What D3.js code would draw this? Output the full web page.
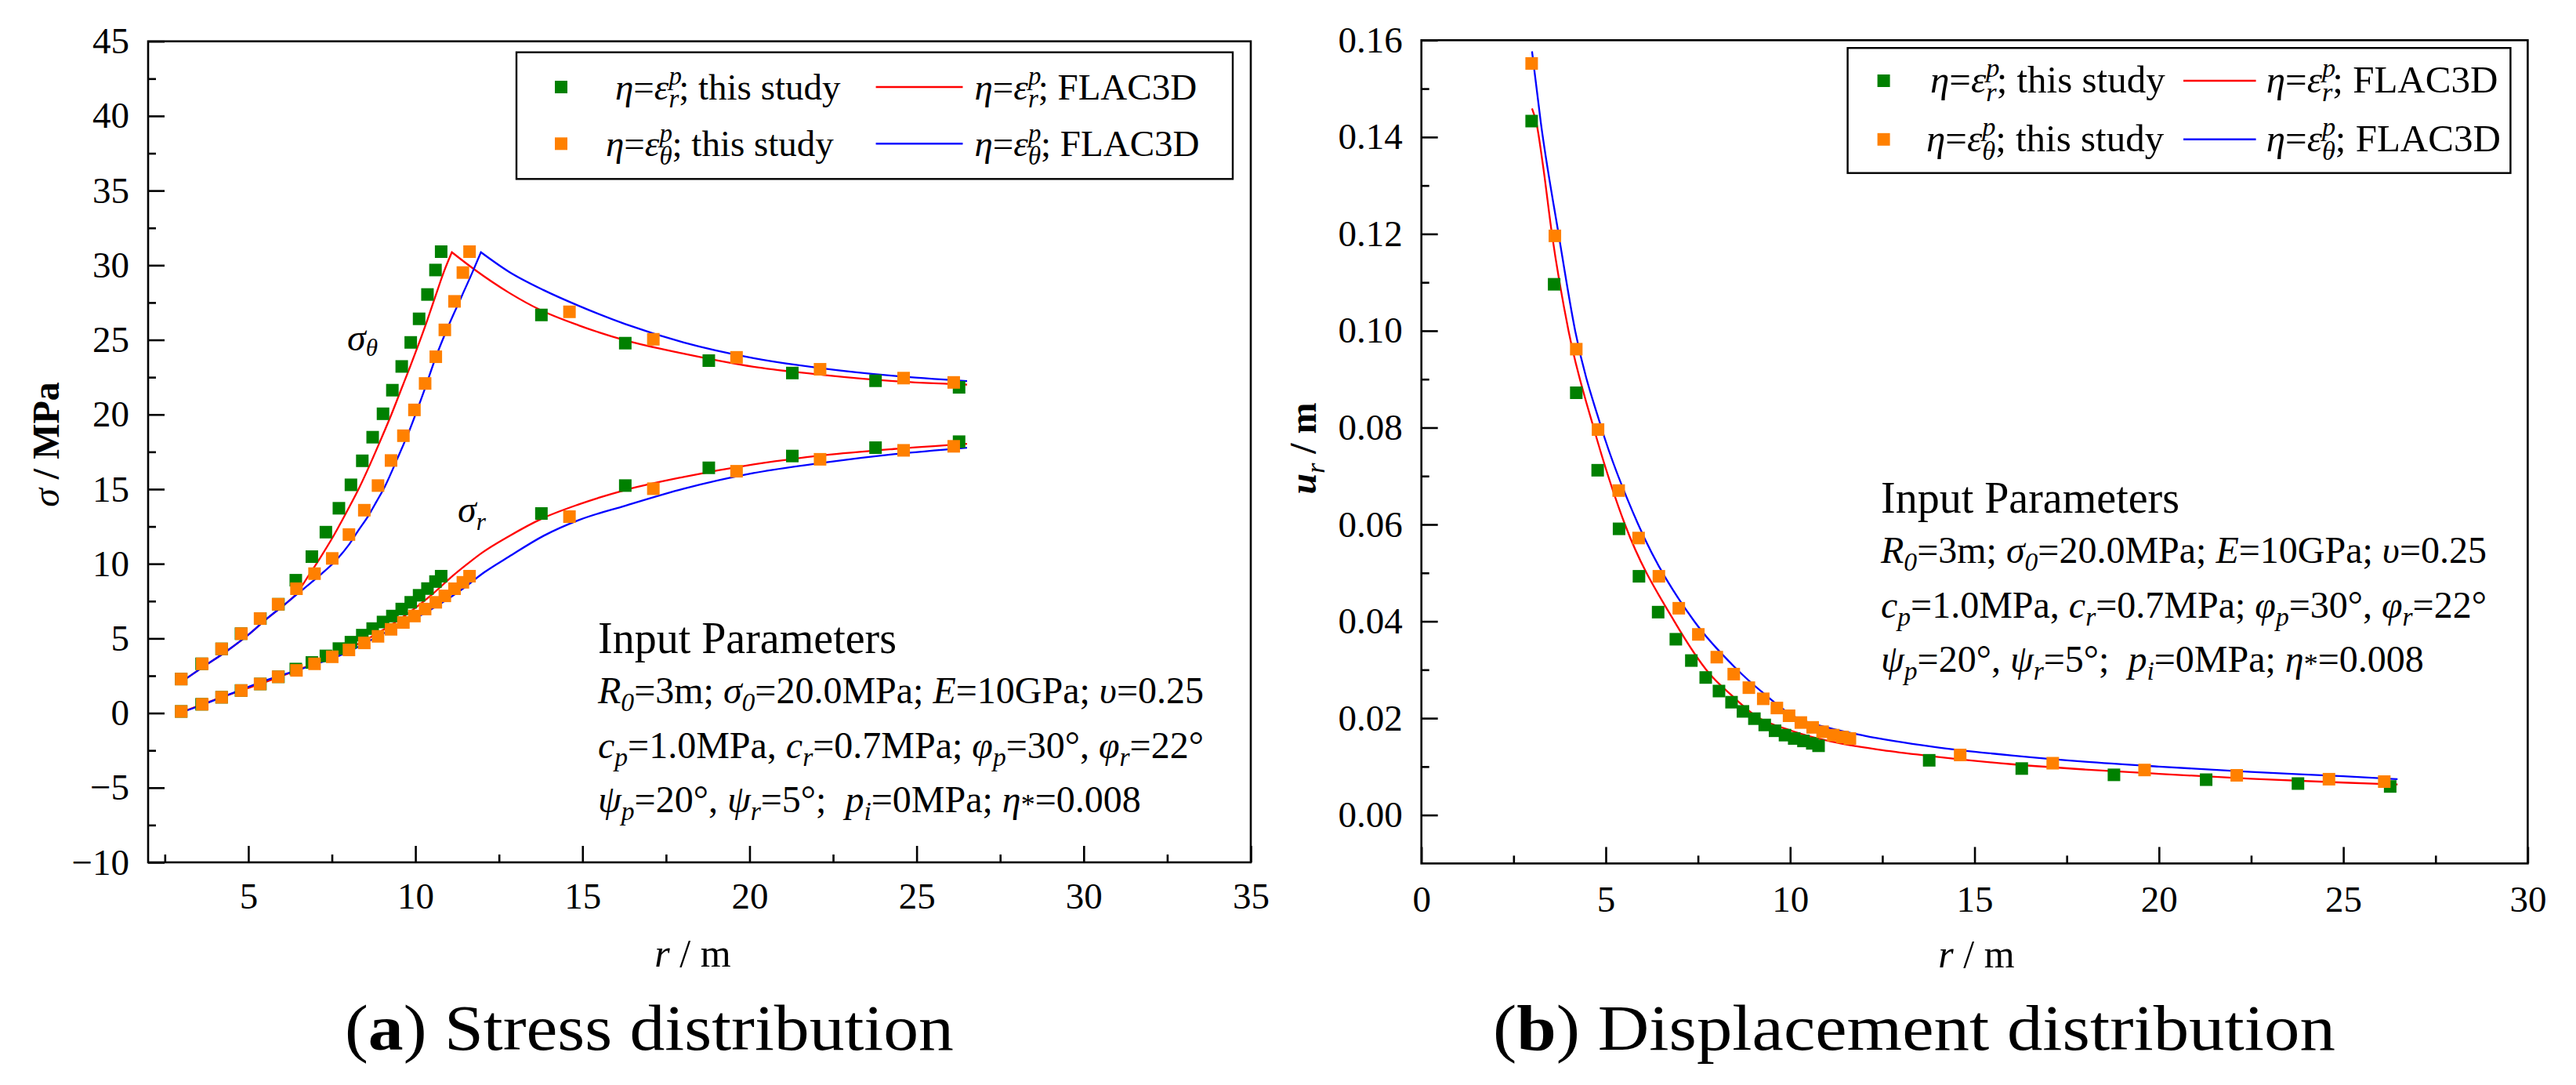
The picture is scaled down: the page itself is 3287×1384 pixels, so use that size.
<!DOCTYPE html>
<html><head><meta charset="utf-8">
<script src="https://cdn.jsdelivr.net/npm/d3@7"></script>
<style>
html,body{margin:0;padding:0;background:#fff;}
text{font-family:"Liberation Serif","Times New Roman",serif;white-space:pre;}
</style></head>
<body>
<script>
// ---------------- DATA ----------------
const rGreen  = [2.99,3.60,4.20,4.78,5.36,5.90,6.42,6.90,7.32,7.71,8.07,8.41,8.72,9.03,9.31,9.59,9.86,10.11,10.36,10.60,10.77,13.77,16.28,18.78,21.28,23.77,26.27];
const rOrange = [2.99,3.62,4.20,4.79,5.35,5.89,6.44,6.98,7.51,8.01,8.47,8.88,9.27,9.64,9.97,10.29,10.61,10.88,11.17,11.42,11.62,14.61,17.12,19.61,22.11,24.61,26.11];
const sigmaThetaGreen  = [2.28,3.30,4.30,5.32,6.33,7.29,8.90,10.48,12.12,13.72,15.29,16.90,18.48,20.05,21.63,23.22,24.83,26.41,28.04,29.68,30.91,26.67,24.78,23.61,22.78,22.26,21.82];
const sigmaThetaOrange = [2.28,3.30,4.30,5.32,6.33,7.29,8.33,9.34,10.36,11.96,13.59,15.24,16.92,18.58,20.31,22.08,23.87,25.67,27.58,29.51,30.91,26.88,25.04,23.83,23.03,22.44,22.15];
const sigmaRGreen  = [0.11,0.59,1.06,1.51,1.95,2.43,2.95,3.39,3.83,4.32,4.75,5.22,5.66,6.10,6.50,6.97,7.42,7.89,8.34,8.81,9.17,13.37,15.24,16.43,17.22,17.78,18.18];
const sigmaROrange = [0.11,0.59,1.06,1.51,1.95,2.43,2.86,3.30,3.77,4.23,4.70,5.14,5.61,6.07,6.50,6.97,7.42,7.85,8.33,8.76,9.17,13.16,15.03,16.20,17.00,17.60,17.87];
const uGreen  = [0.1433,0.1096,0.0872,0.0712,0.0591,0.0493,0.0419,0.0363,0.0319,0.0284,0.0256,0.0233,0.0214,0.0199,0.0186,0.0174,0.0165,0.0158,0.0153,0.0148,0.0143,0.0113,0.0096,0.0083,0.0073,0.0065,0.0059];
const uOrange = [0.1552,0.1196,0.0962,0.0796,0.0670,0.0572,0.0493,0.0427,0.0373,0.0326,0.0291,0.0263,0.0240,0.0221,0.0205,0.0191,0.0181,0.0172,0.0165,0.0161,0.0158,0.0124,0.0107,0.0093,0.0082,0.0074,0.0069];

// FLAC3D curves [r, value]
const flacRedThetaRise  = [[3.0,2.1],[3.62,3.05],[4.37,4.18],[5.0,5.25],[5.54,6.3],[6.1,7.3],[6.44,8.0],[6.8,9.2],[7.15,10.4],[7.57,11.95],[7.96,13.55],[8.32,15.1],[8.66,16.75],[8.97,18.35],[9.28,20.0],[9.56,21.6],[9.84,23.2],[10.11,24.8],[10.36,26.35],[10.61,28.0],[10.85,29.55],[11.09,30.87]];
const flacRedThetaFall  = [[11.09,30.87],[11.75,29.74],[12.80,28.16],[13.77,26.97],[14.89,25.97],[16.28,24.97],[18.03,24.08],[20.12,23.20],[22.22,22.65],[24.31,22.24],[26.51,22.0]];
const flacBlueThetaRise = [[3.0,2.1],[3.62,3.05],[4.37,4.18],[5.0,5.25],[5.54,6.3],[6.1,7.3],[6.64,8.3],[7.15,9.25],[7.65,10.3],[8.0,11.25],[8.28,12.2],[8.6,13.25],[8.83,14.15],[9.09,15.2],[9.45,17.0],[9.84,19.05],[10.23,21.4],[10.62,23.9],[11.0,26.0],[11.4,28.0],[11.7,29.5],[11.96,30.87]];
const flacBlueThetaFall = [[11.96,30.87],[12.80,29.56],[13.84,28.33],[14.89,27.28],[16.28,26.06],[18.03,24.83],[20.12,23.78],[22.22,23.08],[24.31,22.59],[26.51,22.24]];
const flacRedR  = [[3.0,0.05],[4.2,1.06],[5.35,1.95],[6.44,2.86],[7.51,3.8],[8.47,4.85],[9.27,5.9],[10.0,7.05],[10.5,7.95],[11.12,9.2],[11.56,10.0],[12.0,10.75],[12.80,11.85],[13.77,13.01],[14.89,13.98],[16.28,14.94],[18.03,15.82],[20.12,16.66],[22.22,17.27],[24.31,17.69],[26.51,18.04]];
const flacBlueR = [[3.0,0.05],[3.62,0.55],[4.37,1.2],[5.54,2.2],[6.71,3.05],[7.89,4.0],[9.06,5.35],[10.23,6.63],[11.40,8.3],[12.06,9.43],[12.80,10.48],[13.84,11.88],[14.89,12.93],[16.28,13.89],[18.03,15.03],[20.12,16.08],[22.22,16.78],[24.31,17.34],[26.51,17.78]];
const flacRedU  = [[3.0,0.1459],[3.12,0.1429],[3.3,0.134],[3.54,0.12],[3.99,0.10],[4.67,0.08],[5.52,0.06],[6.86,0.04],[7.8,0.0293],[8.4,0.0248],[9.08,0.0204],[10.0,0.0175],[11.09,0.0152],[12.5,0.0134],[13.78,0.0122],[16.0,0.0105],[18.0,0.0094],[20.0,0.0085],[22.5,0.0075],[25.0,0.0067],[26.47,0.0063]];
const flacBlueU = [[3.0,0.1577],[3.24,0.1429],[3.72,0.12],[4.17,0.10],[4.88,0.08],[5.88,0.06],[7.4,0.04],[8.5,0.0305],[9.3,0.025],[10.14,0.0202],[11.0,0.0181],[12.0,0.0164],[13.88,0.0141],[16.0,0.0123],[18.0,0.0110],[20.0,0.0100],[22.5,0.0089],[25.0,0.0080],[26.47,0.0074]];

// ticks
const stressXTicks = [5,10,15,20,25,30,35];
const stressXMinor = [2.5,7.5,12.5,17.5,22.5,27.5,32.5];
const stressYTicks = [-10,-5,0,5,10,15,20,25,30,35,40,45];
const stressYMinor = [-7.5,-2.5,2.5,7.5,12.5,17.5,22.5,27.5,32.5,37.5,42.5];
const dispXTicks = [0,5,10,15,20,25,30];
const dispXMinor = [2.5,7.5,12.5,17.5,22.5,27.5];
const dispYTicks = [0,0.02,0.04,0.06,0.08,0.10,0.12,0.14,0.16];
const dispYMinor = [0.01,0.03,0.05,0.07,0.09,0.11,0.13,0.15];

// ---------------- DRAW ----------------
const W = 3287, H = 1384;
const GREEN = "#008000", ORANGE = "#ff8000", RED = "#ff0000", BLUE = "#0000ff";
const svg = d3.select("body").append("svg").attr("width", W).attr("height", H);
svg.append("rect").attr("width", W).attr("height", H).attr("fill", "#fff");

function rich(g, x, y, parts, size) {
  const t = g.append("text").attr("x", x).attr("y", y).attr("font-size", size);
  let cur = 0;
  parts.forEach(p => {
    let fs = size, off = 0;
    if (p.sub) { fs = size * (p.k || 0.7); off = size * (p.off !== undefined ? p.off : 0.22); }
    if (p.sup) { fs = size * 0.7; off = -size * 0.4; }
    if (p.small) { fs = size * p.small; off = size * (p.off || 0); }
    const ts = t.append("tspan").text(p.t).attr("font-size", fs).attr("dy", off - cur);
    cur = off;
    if (p.i) ts.attr("font-style", "italic");
    if (p.b) ts.attr("font-weight", "bold");
    if (p.dx) ts.attr("dx", p.dx * size);
  });
  return t;
}

function panel(cfg) {
  const g = svg.append("g");
  const x = d3.scaleLinear().domain(cfg.xd).range([cfg.L, cfg.R]);
  const y = d3.scaleLinear().domain(cfg.yd).range([cfg.B, cfg.T]);
  const styleAxis = (sel) => {
    sel.select(".domain").remove();
    sel.selectAll(".tick line").attr("stroke", "#000").attr("stroke-width", 2.6);
    sel.selectAll(".tick text").attr("font-size", cfg.tickFs)
      .attr("font-family", '"Liberation Serif","Times New Roman",serif').attr("fill", "#000");
  };
  g.append("g").attr("transform", `translate(0,${cfg.B})`)
    .call(d3.axisBottom(x).tickValues(cfg.xTicks).tickSize(-21).tickPadding(cfg.xPad).tickFormat(cfg.xFmt))
    .call(styleAxis);
  g.append("g").attr("transform", `translate(0,${cfg.B})`)
    .call(d3.axisBottom(x).tickValues(cfg.xMinor).tickSize(-10).tickFormat(""))
    .call(styleAxis);
  g.append("g").attr("transform", `translate(${cfg.L},0)`)
    .call(d3.axisLeft(y).tickValues(cfg.yTicks).tickSize(-21).tickPadding(24).tickFormat(cfg.yFmt))
    .call(styleAxis);
  g.append("g").attr("transform", `translate(${cfg.L},0)`)
    .call(d3.axisLeft(y).tickValues(cfg.yMinor).tickSize(-10).tickFormat(""))
    .call(styleAxis);
  g.append("rect").attr("x", cfg.L).attr("y", cfg.T).attr("width", cfg.R - cfg.L).attr("height", cfg.B - cfg.T)
    .attr("fill", "none").attr("stroke", "#000").attr("stroke-width", 2.6);

  const line = d3.line().x(d => x(d[0])).y(d => y(d[1])).curve(d3.curveMonotoneX);
  cfg.lines.forEach(l => {
    let d = line(l.segs[0]);
    for (let k = 1; k < l.segs.length; k++) d += line(l.segs[k]).replace(/^M/, "L");
    g.append("path").attr("d", d).attr("fill", "none").attr("stroke", l.color)
      .attr("stroke-width", 2.3).attr("stroke-linejoin", "miter").attr("stroke-miterlimit", 10);
  });
  const s = 16;
  cfg.points.forEach(p => {
    g.append("g").selectAll("rect").data(p.r.map((r, i) => [r, p.v[i]])).join("rect")
      .attr("x", d => x(d[0]) - s / 2).attr("y", d => y(d[1]) - s / 2)
      .attr("width", s).attr("height", s).attr("fill", p.color);
  });
  return { g, x, y };
}

// ---- Panel (a)
const A = panel({
  L: 189, R: 1596, T: 52.7, B: 1100, xd: [2, 35], yd: [-10, 45], tickFs: 47, xPad: 26,
  xTicks: stressXTicks, xMinor: stressXMinor, yTicks: stressYTicks, yMinor: stressYMinor,
  xFmt: d3.format("d"), yFmt: d3.format("d"),
  lines: [
    { color: RED, segs: [flacRedThetaRise, flacRedThetaFall] },
    { color: RED, segs: [flacRedR] },
    { color: BLUE, segs: [flacBlueThetaRise, flacBlueThetaFall] },
    { color: BLUE, segs: [flacBlueR] }
  ],
  points: [
    { color: GREEN, r: rGreen, v: sigmaThetaGreen },
    { color: GREEN, r: rGreen, v: sigmaRGreen },
    { color: ORANGE, r: rOrange, v: sigmaThetaOrange },
    { color: ORANGE, r: rOrange, v: sigmaROrange }
  ]
});

// ---- Panel (b)
const B = panel({
  L: 1813.7, R: 3225.4, T: 51.3, B: 1101.4, xd: [0, 30], yd: [-0.01, 0.16], tickFs: 47, xPad: 28,
  xTicks: dispXTicks, xMinor: dispXMinor, yTicks: dispYTicks, yMinor: dispYMinor,
  xFmt: d3.format("d"), yFmt: d3.format(".2f"),
  lines: [
    { color: RED, segs: [flacRedU] },
    { color: BLUE, segs: [flacBlueU] }
  ],
  points: [
    { color: GREEN, r: rGreen, v: uGreen },
    { color: ORANGE, r: rOrange, v: uOrange }
  ]
});

// ---- Legends
const legStudyR = [{t:"η",i:1},{t:"="},{t:"ε",i:1},{t:"p",sup:1,i:1},{t:"r",sub:1,i:1,dx:-0.35},{t:"; this study"}];
const legStudyT = [{t:"η",i:1},{t:"="},{t:"ε",i:1},{t:"p",sup:1,i:1},{t:"θ",sub:1,i:1,dx:-0.35},{t:"; this study"}];
const legFlacR  = [{t:"η",i:1},{t:"="},{t:"ε",i:1},{t:"p",sup:1,i:1},{t:"r",sub:1,i:1,dx:-0.35},{t:"; FLAC3D"}];
const legFlacT  = [{t:"η",i:1},{t:"="},{t:"ε",i:1},{t:"p",sup:1,i:1},{t:"θ",sub:1,i:1,dx:-0.35},{t:"; FLAC3D"}];

function legend(L) {
  const g = svg.append("g");
  g.append("rect").attr("x", L.bx).attr("y", L.by).attr("width", L.bw).attr("height", L.bh)
    .attr("fill", "#fff").attr("stroke", "#000").attr("stroke-width", 2.4);
  const rows = [
    { y: L.rows[0], mc: GREEN, lc: RED, t1: legStudyR, t2: legFlacR, tx: L.t1x[0] },
    { y: L.rows[1], mc: ORANGE, lc: BLUE, t1: legStudyT, t2: legFlacT, tx: L.t1x[1] }
  ];
  rows.forEach(r => {
    g.append("rect").attr("x", L.mx - 8).attr("y", r.y - 8).attr("width", 16).attr("height", 16).attr("fill", r.mc);
    rich(g, r.tx, r.y + L.base, r.t1, L.fs);
    g.append("line").attr("x1", L.l1).attr("x2", L.l2).attr("y1", r.y).attr("y2", r.y)
      .attr("stroke", r.lc).attr("stroke-width", 2.6);
    rich(g, L.t2x, r.y + L.base, r.t2, L.fs);
  });
}
legend({ bx: 659, by: 66.7, bw: 914, bh: 161.6, rows: [111, 183.3], mx: 716, t1x: [785, 773], l1: 1117.6, l2: 1228.5, t2x: 1243.5, fs: 47, base: 16 });
legend({ bx: 2357.6, by: 61.2, bw: 845.8, bh: 159.5, rows: [103, 177.8], mx: 2403.6, t1x: [2463, 2458], l1: 2786, l2: 2878.6, t2x: 2891.7, fs: 49, base: 15 });

// ---- Input parameters
const paramTitle = "Input Parameters";
const paramLine1 = [{t:"R",i:1},{t:"0",sub:1,i:1},{t:"=3m; "},{t:"σ",i:1},{t:"0",sub:1,i:1},{t:"=20.0MPa; "},{t:"E",i:1},{t:"=10GPa; "},{t:"υ",i:1},{t:"=0.25"}];
const paramLine2 = [{t:"c",i:1},{t:"p",sub:1,i:1},{t:"=1.0MPa, "},{t:"c",i:1},{t:"r",sub:1,i:1},{t:"=0.7MPa; "},{t:"φ",i:1},{t:"p",sub:1,i:1},{t:"=30°, "},{t:"φ",i:1},{t:"r",sub:1,i:1},{t:"=22°"}];
const paramLine3 = [{t:"ψ",i:1},{t:"p",sub:1,i:1},{t:"=20°, "},{t:"ψ",i:1},{t:"r",sub:1,i:1},{t:"=5°;  "},{t:"p",i:1},{t:"i",sub:1,i:1},{t:"=0MPa; "},{t:"η",i:1},{t:"*",small:0.75,off:0.05},{t:"=0.008"}];

function params(x, y0) {
  const g = svg.append("g");
  g.append("text").attr("x", x).attr("y", y0).attr("font-size", 56).text(paramTitle);
  rich(g, x, y0 + 64, paramLine1, 48);
  rich(g, x, y0 + 134, paramLine2, 48);
  rich(g, x, y0 + 203, paramLine3, 48);
}
params(763, 832.7);
params(2400, 653.8);

// ---- Curve annotations
rich(svg, 443, 447, [{t:"σ",i:1},{t:"θ",sub:1,i:1,k:0.65,off:0.15}], 48);
rich(svg, 584, 666, [{t:"σ",i:1},{t:"r",sub:1,i:1,k:0.65,off:0.2}], 48);

// ---- Axis titles
rich(svg, 884, 1233, [{t:"r",i:1},{t:" / m"}], 50).attr("text-anchor", "middle");
rich(svg, 2522, 1234, [{t:"r",i:1},{t:" / m"}], 50).attr("text-anchor", "middle");
rich(svg, 0, 0, [{t:"σ",i:1},{t:" / MPa",b:1}], 48).attr("text-anchor", "middle")
  .attr("transform", "translate(75,567) rotate(-90)");
rich(svg, 0, 0, [{t:"u",i:1,b:1},{t:"r",sub:1,i:1},{t:" / m",b:1}], 48).attr("text-anchor", "middle")
  .attr("transform", "translate(1679,572) rotate(-90)");

// ---- Sub-figure captions
function caption(x, y, parts, target) {
  const t = rich(svg, x, y, parts, 82);
  const w = t.node().getComputedTextLength();
  const k = w > 0 ? target / w : 1;
  t.attr("transform", `translate(${x},${y}) scale(${k},1) translate(${-x},${-y})`);
}
caption(440, 1339, [{t:"("},{t:"a",b:1},{t:") Stress distribution"}], 777);
caption(1905, 1339, [{t:"("},{t:"b",b:1},{t:") Displacement distribution"}], 1075);
</script>
</body></html>
